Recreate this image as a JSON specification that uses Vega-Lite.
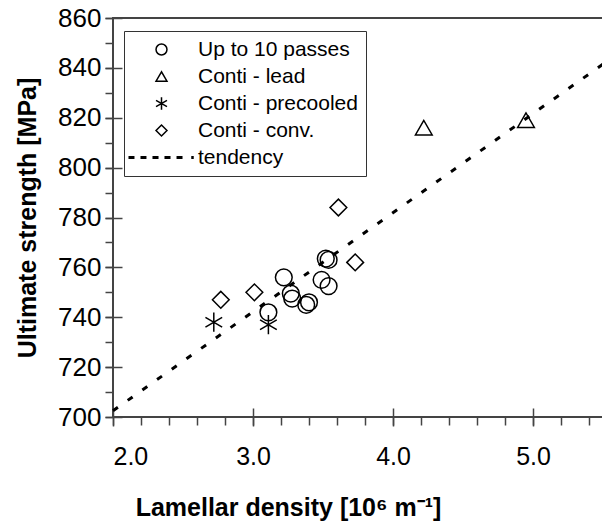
{
  "$schema": "https://vega.github.io/schema/vega-lite/v6.json",
  "autosize": "none",
  "width": 490,
  "height": 399,
  "padding": {"left": 113, "top": 18, "right": 0, "bottom": 111},
  "background": "white",
  "config": {
    "view": {"stroke": "#444", "strokeWidth": 2},
    "font": "Liberation Sans",
    "axis": {"grid": false, "domain": false, "labelFont": "Liberation Sans", "labelColor": "black", "tickColor": "#444", "tickWidth": 1.5, "titleColor": "black", "titleFont": "Liberation Sans"}
  },
  "layer": [
    {
      "data": {"values": [
        {"series": "Up to 10 passes", "x": 3.11, "y": 742},
        {"series": "Up to 10 passes", "x": 3.22, "y": 756},
        {"series": "Up to 10 passes", "x": 3.27, "y": 749.5},
        {"series": "Up to 10 passes", "x": 3.28, "y": 747.5},
        {"series": "Up to 10 passes", "x": 3.38, "y": 745},
        {"series": "Up to 10 passes", "x": 3.40, "y": 746},
        {"series": "Up to 10 passes", "x": 3.52, "y": 763.5},
        {"series": "Up to 10 passes", "x": 3.54, "y": 763},
        {"series": "Up to 10 passes", "x": 3.49, "y": 755},
        {"series": "Up to 10 passes", "x": 3.54, "y": 752.5},
        {"series": "Conti - lead", "x": 4.22, "y": 816},
        {"series": "Conti - lead", "x": 4.95, "y": 819},
        {"series": "Conti - precooled", "x": 2.72, "y": 738},
        {"series": "Conti - precooled", "x": 3.11, "y": 737},
        {"series": "Conti - conv.", "x": 2.77, "y": 747},
        {"series": "Conti - conv.", "x": 3.01, "y": 750},
        {"series": "Conti - conv.", "x": 3.61, "y": 784},
        {"series": "Conti - conv.", "x": 3.73, "y": 762}
      ]},
      "mark": {"type": "point", "filled": false, "stroke": "black", "strokeWidth": 1.5, "size": 280, "opacity": 1},
      "encoding": {
        "x": {"field": "x", "type": "quantitative",
          "scale": {"domain": [2, 5.5], "nice": false, "zero": false},
          "axis": {"orient": "bottom", "values": [2, 3, 4, 5], "format": ".1f", "offset": -9, "tickSize": 18, "labelFontSize": 25, "labelPadding": 18, "title": "Lamellar density [10⁶ m⁻¹]", "titleFontSize": 25, "titleFontWeight": "bold", "titlePadding": 26, "titleX": 175, "titleAlign": "center"}},
        "y": {"field": "y", "type": "quantitative",
          "scale": {"domain": [700, 860], "nice": false, "zero": false},
          "axis": {"orient": "left", "values": [700, 720, 740, 760, 780, 800, 820, 840, 860], "offset": -9, "tickSize": 17, "labelFontSize": 26, "labelPadding": 4, "title": "Ultimate strength [MPa]", "titleFontSize": 25, "titleFontWeight": "bold", "titlePadding": 17}},
        "shape": {"field": "series", "type": "nominal",
          "scale": {"domain": ["Up to 10 passes", "Conti - lead", "Conti - precooled", "Conti - conv.", "tendency"],
                    "range": ["circle", "triangle-up", "M0,-1.15L0,1.15M-1,-0.58L1,0.58M-1,0.58L1,-0.58", "diamond",
                              "M-5.89,-0.137L-5.07,-0.137L-5.07,0.137L-5.89,0.137ZM-3.7,-0.137L-2.88,-0.137L-2.88,0.137L-3.7,0.137ZM-1.51,-0.137L-0.68,-0.137L-0.68,0.137L-1.51,0.137ZM0.68,-0.137L1.51,-0.137L1.51,0.137L0.68,0.137ZM2.88,-0.137L3.7,-0.137L3.7,0.137L2.88,0.137ZM5.57,-0.137L5.75,-0.137L5.75,0.137L5.57,0.137Z"]},
          "legend": {"title": null, "orient": "none", "legendX": 11, "legendY": 13, "direction": "vertical", "columns": 1,
            "padding": 8, "strokeColor": "#333", "fillColor": "white", "symbolSize": 120, "symbolStrokeWidth": 1.5, "symbolStrokeColor": "black", "symbolFillColor": "transparent", "symbolOffset": 19,
            "labelFont": "Liberation Sans", "labelFontSize": 21, "labelColor": "black", "labelOffset": 26, "rowPadding": 5}
        }
      }
    },
    {
      "data": {"values": [{"x": 2.0, "y": 702.5}, {"x": 5.5, "y": 841.5}]},
      "mark": {"type": "line", "color": "black", "strokeWidth": 3, "strokeDash": [6, 12]},
      "encoding": {
        "x": {"field": "x", "type": "quantitative",
          "axis": {"orient": "bottom", "values": [2.0, 2.2, 2.4, 2.6, 2.8, 3.0, 3.2, 3.4, 3.6, 3.8, 4.0, 4.2, 4.4, 4.6, 4.8, 5.0, 5.2, 5.4], "tickSize": 8, "labels": false, "title": null}},
        "y": {"field": "y", "type": "quantitative",
          "axis": {"orient": "left", "values": [700, 710, 720, 730, 740, 750, 760, 770, 780, 790, 800, 810, 820, 830, 840, 850, 860], "tickSize": 8, "labels": false, "title": null}}
      }
    }
  ],
  "resolve": {"axis": {"x": "independent", "y": "independent"}}
}
